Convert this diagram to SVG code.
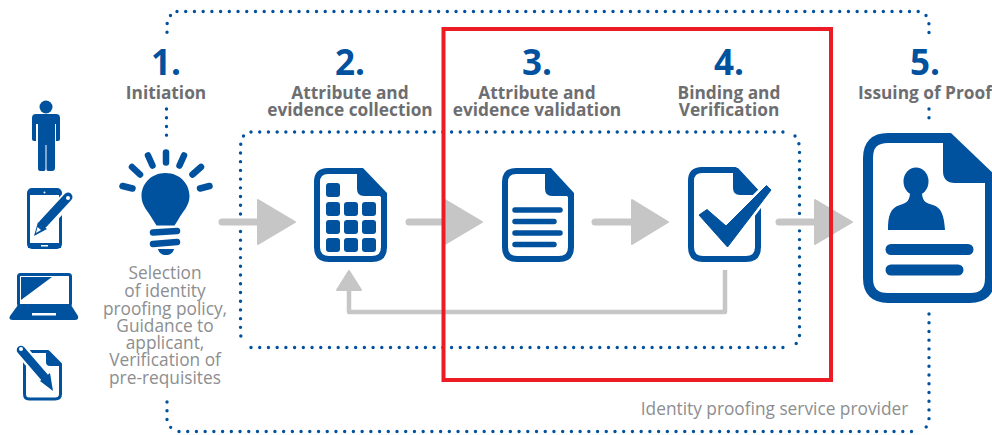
<svg xmlns="http://www.w3.org/2000/svg" width="992" height="435" viewBox="0 0 992 435">
<style>
text{font-family:"Open Sans","Noto Sans","Liberation Sans",sans-serif;text-anchor:middle}
.num{font-size:35px;font-weight:700;fill:#00519e}
.lab{font-size:17.300px;font-weight:700;fill:#6d6e71}
.body{font-size:17.300px;fill:#8c8e90}
.dots{fill:none;stroke:#00519e;stroke-width:3.4;stroke-linecap:round;stroke-dasharray:0 8.72}
.gl{fill:none;stroke:#c6c6c6;stroke-linecap:round;stroke-linejoin:round}
.gf{fill:#c6c6c6;stroke:#c6c6c6;stroke-width:2;stroke-linejoin:round}
.ol{fill:#fff;stroke:#00519e;stroke-linejoin:round}
.bf{fill:#00519e}
.bl{fill:none;stroke:#00519e;stroke-linecap:round}
</style>
<g id="connectors">
<g id="outer-boundary">
<path class="dots" d="M177 11.500H921"/>
<path class="dots" d="M170.500 15.500L167 24V37"/>
<path class="dots" d="M166.500 109V139"/>
<path class="dots" d="M167 402V419.500L171 428"/>
<path class="dots" d="M179 431.500H917"/>
<path class="dots" d="M926 15.500L929 24V36"/>
<path class="dots" d="M929 109V122"/>
<path class="dots" d="M929 314V419L926 427.500"/>
</g>
<g id="inner-boundary">
<path class="dots" d="M251 132H787"/>
<path class="dots" d="M243.500 136L240.500 145V335L243.500 344"/>
<path class="dots" d="M251 347.500H790"/>
<path class="dots" d="M795 136L799.500 145V336L796 344"/>
</g>
<path id="feedback-line" class="gl" style="stroke-width:4.500;stroke-linecap:butt" d="M725 270V312H349V289"/>
<path class="gf" d="M349 271L337 290H361Z"/>
<g id="arrow-1"><path class="gl" stroke-width="7" d="M222 222H258"/><path class="gf" d="M258 200V244L295 222Z"/></g>
<g id="arrow-2"><path class="gl" stroke-width="7" d="M409 222H445"/><path class="gf" d="M445 200V244L482 222Z"/></g>
<g id="arrow-3"><path class="gl" stroke-width="7" d="M595 222H632"/><path class="gf" d="M632 200V244L668 222Z"/></g>
<g id="arrow-4"><path class="gl" stroke-width="7" d="M779 222H815"/><path class="gf" d="M815 200V244L852 222Z"/></g>
</g>
<g id="step-1">
<text class="num" x="166" y="75">1.</text>
<text class="lab" x="166" y="98.500">Initiation</text>
<g id="bulb">
<path class="bl" stroke-width="6.500" d="M166 152.500V162.500M148 155.500L152.500 165.500M184 155.500L179.500 165.500M132 167L140 174.500M201 167L192.500 174.500M122.500 186L132.500 188.500M209.500 186L200 188.500"/>
<path class="bf" d="M165.500 173C151 173 141.500 184 141.500 196C141.500 206 148 211 153 220L156.500 225.500H174.500L178 220C183 211 189.500 206 189.500 196C189.500 184 180 173 165.500 173Z"/>
<path class="bl" stroke-width="6.500" d="M153 232.500L177 231M153 244L177 242"/>
<path class="bf" d="M158 249H174C173 253 170 255 166 255C162 255 159 253 158 249Z"/>
</g>
<text class="body" x="165" y="279">Selection</text>
<text class="body" x="165" y="297">of identity</text>
<text class="body" x="165" y="314.500">proofing policy,</text>
<text class="body" x="165" y="331.500">Guidance to</text>
<text class="body" x="165" y="349">applicant,</text>
<text class="body" x="165" y="366">Verification of</text>
<text class="body" x="165" y="383.500">pre-requisites</text>
</g>
<g id="step-2">
<text class="num" x="350" y="75">2.</text>
<text class="lab" x="350" y="98.500">Attribute and</text>
<text class="lab" x="350" y="115.500">evidence collection</text>
<g id="doc-grid">
<path class="ol" stroke-width="6" d="M328 171H360L384 196V247Q384 259 372 259H329Q317 259 317 247V182Q317 171 328 171Z"/>
<path class="bf" d="M357 168H363L387 193V196H364Q357 196 357 189Z"/>
<g class="bf">
<rect x="326" y="183" width="14" height="14" rx="3"/>
<rect x="326" y="202" width="14" height="14" rx="3"/><rect x="344" y="202" width="14" height="14" rx="3"/><rect x="362" y="202" width="14" height="14" rx="3"/>
<rect x="326" y="220" width="14" height="14" rx="3"/><rect x="344" y="220" width="14" height="14" rx="3"/><rect x="362" y="220" width="14" height="14" rx="3"/>
<rect x="326" y="238" width="14" height="14" rx="3"/><rect x="344" y="238" width="14" height="14" rx="3"/><rect x="362" y="238" width="14" height="14" rx="3"/>
</g>
</g>
</g>
<g id="step-3">
<text class="num" x="537" y="75">3.</text>
<text class="lab" x="537" y="98.500">Attribute and</text>
<text class="lab" x="537" y="115.500">evidence validation</text>
<g id="doc-lines">
<path class="ol" stroke-width="6" d="M516 171H548L571 196V247Q571 259 559 259H517Q505 259 505 247V182Q505 171 516 171Z"/>
<path class="bf" d="M545 168H551L574 193V196H552Q545 196 545 189Z"/>
<path class="bl" stroke-width="5.500" d="M515 210H560M515 221.500H554M515 233H560M515 244.500H554"/>
</g>
</g>
<g id="step-4">
<text class="num" x="729" y="75">4.</text>
<text class="lab" x="729" y="98.500">Binding and</text>
<text class="lab" x="729" y="115.500">Verification</text>
<g id="doc-check">
<path class="ol" stroke-width="6" d="M702 170H735L758 194V247Q758 259 746 259H703Q691 259 691 247V181Q691 170 702 170Z"/>
<path class="bf" d="M733 168H738L761 193V195H740Q733 195 733 188Z"/>
<path fill="#fff" stroke="#fff" stroke-width="6" stroke-linejoin="round" d="M699 215L707 209.500L726 226L766.500 185.500L771 190L727.500 247Z"/>
<path class="bf" stroke="#00519e" stroke-width="1" stroke-linejoin="round" d="M699 215L707 209.500L726 226L766.500 185.500L771 190L727.500 247Z"/>
</g>
</g>
<g id="step-5">
<text class="num" x="925" y="75">5.</text>
<text class="lab" x="925" y="98.500">Issuing of Proof</text>
<g id="doc-person">
<path class="ol" stroke-width="10" d="M888 138H948L990 180V278Q990 298 970 298H888Q868 298 868 278V158Q868 138 888 138Z"/>
<path class="bf" d="M943 133H951L995 175V183H955Q943 183 943 171Z"/>
<ellipse class="bf" cx="916" cy="181.500" rx="12.500" ry="14"/>
<path class="bf" d="M888 230C888 216 890 208 900 205C906 203 909 202 910 194H922C923 202 926 203 933 205C942 208 944 216 945 230Z"/>
<path class="bl" stroke-width="11" d="M891 249.500H968M891 270H958"/>
</g>
</g>
<g id="actor-person">
<circle class="bf" cx="46" cy="107" r="6.500"/>
<path class="bf" d="M36 114H56Q60 114 60 118V139Q60 141 58 141H56V124H55V168Q55 171 52 171H48Q46.500 171 46.500 169V145H45.500V169Q45.500 171 44 171H40Q38 171 38 168V124H36V141H34Q32 141 32 139V118Q32 114 36 114Z"/>
</g>
<g id="actor-tablet">
<rect x="28.500" y="189.500" width="32" height="58" rx="3.500" fill="#fff" stroke="#00519e" stroke-width="3"/>
<path class="bf" d="M28 190H61V195H28ZM28 243H61V248H28Z"/>
<circle cx="44.500" cy="192.500" r="1" fill="#fff"/>
<rect x="41" y="245" width="7" height="1.500" fill="#fff"/>
<path d="M69 197L37 232" stroke="#fff" stroke-width="14" stroke-linecap="round"/>
<path d="M68 197L43 224" stroke="#00519e" stroke-width="9" stroke-linecap="round"/>
<path class="bf" d="M38 222L47 229L34 236Z"/>
<circle cx="68" cy="198" r="2" fill="#fff"/>
<path d="M37.500 227L41 230L36 233Z" fill="#fff"/>
</g>
<g id="actor-laptop">
<rect x="18.500" y="274.500" width="52" height="31" rx="2" fill="#fff" stroke="#00519e" stroke-width="3"/>
<path class="bf" d="M21 277H52L21 300Z"/>
<path class="bf" d="M18 305H71L78 316Q79 320 75 320H13Q8 320 10 316Z"/>
<rect x="32" y="313" width="24" height="2.500" fill="#fff"/>
</g>
<g id="actor-document">
<path class="ol" stroke-width="3" d="M31 351.500H48L60.500 364V394Q60.500 399 55 399H29Q24.500 399 24.500 394V356Q24.500 351.500 31 351.500Z"/>
<path class="bf" d="M46 351H49L61 364V366H50Q46 366 46 362Z"/>
<path d="M21 350L50 384" stroke="#fff" stroke-width="13" stroke-linecap="round"/>
<path d="M21 350L46 379" stroke="#00519e" stroke-width="8.500" stroke-linecap="round"/>
<path class="bf" d="M40 381L50 373L53 391Z"/>
<circle cx="21" cy="349" r="2" fill="#fff"/>
</g>
<text class="body" x="774.500" y="415">Identity proofing service provider</text>
<rect id="highlight" x="443.500" y="29" width="387.500" height="351" fill="none" stroke="#ed1c24" stroke-width="4"/>
</svg>
